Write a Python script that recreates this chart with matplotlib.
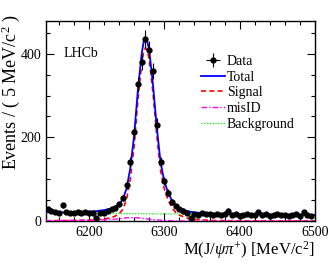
import numpy as np
import matplotlib
matplotlib.use("Agg")
import matplotlib.pyplot as plt
from matplotlib.ticker import MultipleLocator

plt.rcParams['font.family'] = ['Liberation Serif', 'DejaVu Serif']
plt.rcParams['mathtext.fontset'] = 'custom'
plt.rcParams['mathtext.rm'] = 'Liberation Serif'
plt.rcParams['mathtext.it'] = 'Liberation Serif:italic'

# ---- data (bin centres, 5 MeV bins) ----
mass = [6145, 6150, 6155, 6160, 6165, 6170, 6175, 6180, 6185, 6190,
        6195, 6200, 6205, 6210, 6215, 6220, 6225, 6230, 6235, 6240,
        6245, 6250, 6255, 6260, 6265, 6270, 6275, 6280, 6285, 6290,
        6295, 6300, 6305, 6310, 6315, 6320, 6325, 6330, 6335, 6340,
        6345, 6350, 6355, 6360, 6365, 6370, 6375, 6380, 6385, 6390,
        6395, 6400, 6405, 6410, 6415, 6420, 6425, 6430, 6435, 6440,
        6445, 6450, 6455, 6460, 6465, 6470, 6475, 6480, 6485, 6490,
        6495]
counts = [28, 25, 22, 20, 38, 22, 20, 18, 22, 20,
          22, 20, 18, 8, 18, 20, 24, 28, 32, 40,
          55, 85, 142, 212, 327, 380, 435, 409, 359, 230,
          142, 96, 68, 46, 35, 28, 25, 18, 8, 17,
          15, 18, 16, 17, 14, 16, 15, 17, 25, 14,
          16, 13, 15, 16, 14, 15, 21, 14, 16, 12,
          15, 16, 14, 15, 13, 14, 16, 13, 22, 14,
          13]

# ---- fit curves ----
curve_mass = [6143, 6160, 6180, 6200, 6210, 6220, 6230, 6235, 6240, 6245,
              6250, 6255, 6260, 6265, 6270, 6272.5, 6275, 6277.5, 6280, 6285,
              6290, 6295, 6300, 6305, 6310, 6315, 6320, 6330, 6340, 6360,
              6380, 6400, 6440, 6480, 6500]
total = [20.5, 20.7, 21.0, 22.3, 23.7, 26.0, 29.9, 34.3, 40.3, 52.2,
         78.2, 127.6, 205.5, 315, 400, 427.4, 437, 428.3, 407.8, 325.7,
         224.6, 139.9, 95.2, 67.8, 49.4, 38.1, 31.0, 23.7, 20.5, 17.8,
         16.8, 16.3, 15.5, 14.9, 14.6]
signal = [0.5, 0.7, 1.0, 2.0, 3, 5, 8, 12, 17, 28,
          53, 102, 180, 290, 376, 404, 414, 406, 386, 305,
          205, 121, 77, 50, 32, 21, 14, 7, 4, 1.5,
          0.8, 0.5, 0.2, 0.1, 0.1]
misid = [1.0, 1.2, 1.5, 2.0, 2.5, 3.0, 4.0, 4.5, 5.5, 6.5,
         7.5, 8.0, 8.0, 7.5, 6.5, 6.0, 5.5, 5.0, 4.5, 3.5,
         2.5, 1.8, 1.2, 0.8, 0.5, 0.3, 0.2, 0.1, 0.05, 0,
         0, 0, 0, 0, 0]
bkg_mass = [6143, 6500]
background = [19.0, 14.5]

fig = plt.figure(figsize=(3.32, 2.63), dpi=100)
ax = fig.add_axes([0.1386, 0.1597, 0.8102, 0.7603])

ax.plot(curve_mass, total, color='#0000ff', lw=1.3, label='Total', zorder=4)
ax.plot(curve_mass, signal, color='#ff0000', lw=1.2, ls=(0, (3, 2)), label='Signal', zorder=3)
ax.plot(curve_mass, misid, color='#ff00ff', lw=1.0, ls=(0, (4, 1.5, 1, 1.5)), label='misID', zorder=3)
ax.plot(bkg_mass, background, color='#33ee33', lw=1.0, ls=(0, (1, 1)), label='Background', zorder=3)

err = np.sqrt(np.array(counts, dtype=float))
ax.errorbar(mass, counts, yerr=err, xerr=2.5, fmt='o', color='black', ms=3.5,
            elinewidth=0.8, capsize=0, label='Data', zorder=5)

ax.set_xlim(6143, 6500)
ax.set_ylim(0, 478)
ax.xaxis.set_major_locator(MultipleLocator(100))
ax.xaxis.set_minor_locator(MultipleLocator(20))
ax.yaxis.set_major_locator(MultipleLocator(200))
ax.yaxis.set_minor_locator(MultipleLocator(50))
ax.tick_params(which='both', direction='in', top=True, right=True, labelsize=10)
ax.tick_params(which='major', length=6, width=0.8)
ax.tick_params(which='minor', length=3, width=0.8)
for s in ax.spines.values():
    s.set_linewidth(1.0)

ax.set_xlabel(r'M(J/$\psi\pi^{+}$) [MeV/c$^{2}$]', fontsize=12, loc='right', labelpad=0)
fig.text(11 / 332, 1 - 92 / 263, r'Events / ( 5 MeV/c$^{2}$ )', fontsize=13,
         rotation=90, ha='center', va='center')

ax.text(0.065, 0.84, 'LHCb', transform=ax.transAxes, fontsize=10, va='center')

handles, labels = ax.get_legend_handles_labels()
order = [labels.index(l) for l in ['Data', 'Total', 'Signal', 'misID', 'Background']]
ax.legend([handles[i] for i in order], [labels[i] for i in order],
          loc='upper left', bbox_to_anchor=(0.54, 0.88), frameon=False,
          fontsize=10, handlelength=1.7, handletextpad=0.15, labelspacing=0.2,
          borderpad=0.2)

fig.savefig('out.png', dpi=100)
